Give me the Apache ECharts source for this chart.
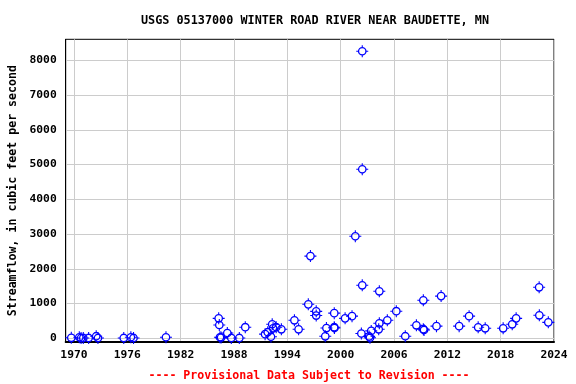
<!DOCTYPE html>
<html>
<head>
<meta charset="utf-8">
<script src="https://cdn.jsdelivr.net/npm/echarts@6/dist/echarts.min.js"></script>
<style>
html,body{margin:0;padding:0;background:#fff;}
#chart{width:576px;height:384px;}
</style>
</head>
<body>
<div id="chart"></div>
<script>
// Decimal year of each measurement
var years = [1969.7, 1970.6, 1970.8, 1971.05, 1971.65, 1972.5, 1972.7, 1975.6, 1976.4, 1976.7,
  1980.35, 1986.28, 1986.35, 1986.42, 1986.55, 1987.25, 1987.7, 1988.6, 1989.27,
  1991.5, 1991.8, 1992.16, 1992.3, 1992.4, 1992.75, 1993.33, 1994.8, 1995.27,
  1996.36, 1996.6, 1997.25, 1997.25, 1998.27, 1998.4, 1999.28, 1999.28, 1999.3,
  2000.5, 2001.28, 2001.65, 2002.43, 2002.43, 2002.43, 2002.33, 2003.2, 2003.3, 2003.44,
  2004.28, 2004.35, 2004.35, 2005.25, 2006.26, 2007.27, 2008.52, 2009.3, 2009.3, 2009.38,
  2010.78, 2011.3, 2013.33, 2014.45, 2015.47, 2016.26, 2018.28, 2019.3, 2019.74,
  2022.33, 2022.35, 2023.36];
// Streamflow, cubic feet per second
var flows = [15, 30, 10, 10, 10, 60, 10, 10, 30, 10,
  30, 575, 383, 30, 20, 153, 10, 10, 320,
  120, 175, 46, 405, 288, 320, 259, 518, 259,
  978, 2365, 776, 655, 58, 295, 724, 320, 296,
  575, 638, 2936, 8260, 4864, 1525, 138, 55, 18, 214,
  259, 1353, 432, 518, 780, 60, 374, 1094, 264, 240,
  350, 1215, 350, 638, 317, 288, 288, 403, 575,
  1468, 662, 460];
var xTicks = [1970, 1976, 1982, 1988, 1994, 2000, 2006, 2012, 2018, 2024];
var yTicks = [0, 1000, 2000, 3000, 4000, 5000, 6000, 7000, 8000];

var FONT = 'DejaVu Sans Mono';
var data = years.map(function (y, i) { return [y, flows[i]]; });
var markerPath = 'path://M11 3A8 8 0 1 1 11 19A8 8 0 1 1 11 3Z M11 5.4A5.6 5.6 0 1 0 11 16.6A5.6 5.6 0 1 0 11 5.4Z M10 0H12V3.2H10Z M10 18.8H12V22H10Z M0 10H3.2V12H0Z M18.8 10H22V12H18.8Z';

var chart = echarts.init(document.getElementById('chart'), null, {renderer: 'canvas'});
chart.setOption({
  animation: false,
  backgroundColor: '#ffffff',
  title: {
    text: 'USGS 05137000 WINTER ROAD RIVER NEAR BAUDETTE, MN',
    left: 310, top: 10, textAlign: 'center',
    textStyle: {fontFamily: FONT, fontWeight: 'bold', fontSize: 11.8, color: '#000'}
  },
  graphic: [{
    type: 'text',
    style: {text: '---- Provisional Data Subject to Revision ----', fill: '#ff0000',
      font: 'bold 11.6px "DejaVu Sans Mono"', x: 309, y: 376, textAlign: 'center', textVerticalAlign: 'middle'}
  }],
  grid: {left: 65.7, right: 22, top: 39.3, bottom: 42, outerBoundsMode: 'none', containLabel: false,
    show: true, borderColor: '#000', borderWidth: 1, backgroundColor: 'transparent'},
  xAxis: {
    type: 'value', min: 1969.07, max: 2024,
    axisLine: {show: true, onZero: false, lineStyle: {color: '#000', width: 2}},
    axisTick: {show: false, customValues: xTicks},
    splitLine: {show: true, lineStyle: {color: '#cccccc', width: 1}},
    axisLabel: {customValues: xTicks, formatter: function (v) { return String(v); },
      fontFamily: FONT, fontWeight: 'bold', fontSize: 11.3, color: '#000', margin: 8}
  },
  yAxis: {
    type: 'value', min: -106, max: 8604,
    name: 'Streamflow, in cubic feet per second', nameLocation: 'middle', nameGap: 47, nameRotate: 90,
    nameTextStyle: {fontFamily: FONT, fontWeight: 'bold', fontSize: 11.6, color: '#000'},
    axisLine: {show: true, onZero: false, lineStyle: {color: '#000', width: 1}},
    axisTick: {show: false, customValues: yTicks},
    splitLine: {show: true, lineStyle: {color: '#cccccc', width: 1}},
    axisLabel: {customValues: yTicks, formatter: function (v) { return String(v); },
      fontFamily: FONT, fontWeight: 'bold', fontSize: 11.3, color: '#000', margin: 9}
  },
  series: [{
    type: 'scatter', data: data,
    symbol: markerPath, symbolSize: 12,
    itemStyle: {color: '#0000ff', opacity: 1}
  }]
});
</script>
</body>
</html>
